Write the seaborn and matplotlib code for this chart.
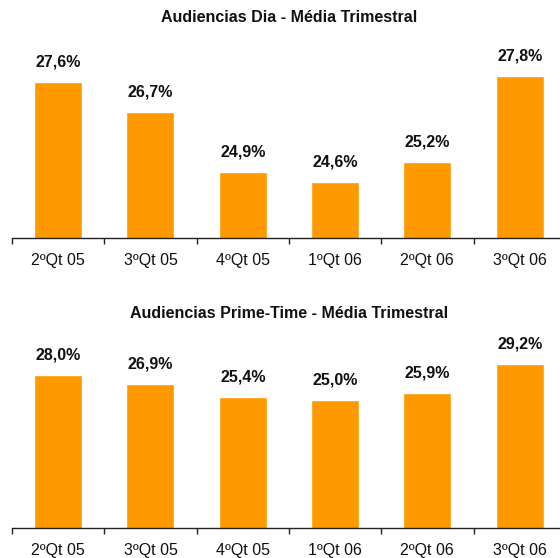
import numpy as np
import pandas as pd
import matplotlib
matplotlib.use("Agg")
import matplotlib.pyplot as plt
import seaborn as sns

# dados
trimestres = ["2ºQt 05", "3ºQt 05", "4ºQt 05", "1ºQt 06", "2ºQt 06", "3ºQt 06"]
audiencia_dia = [27.6, 26.7, 24.9, 24.6, 25.2, 27.8]
audiencia_prime = [28.0, 26.9, 25.4, 25.0, 25.9, 29.2]

titulo_dia = "Audiencias Dia - Média Trimestral"
titulo_prime = "Audiencias Prime-Time - Média Trimestral"

sns.set_theme(style="white")
plt.rcParams['font.family'] = ['Liberation Sans', 'DejaVu Sans']

LARANJA = "#FF9900"

fig = plt.figure(figsize=(5.6, 5.58), dpi=100)

paineis = [
    (audiencia_dia, titulo_dia, [0.0214, 0.5735, 0.989, 0.3548], (22.9, 28.88), 0.968),
    (audiencia_prime, titulo_prime, [0.0214, 0.0538, 0.989, 0.3548], (10.1, 33.2), 0.439),
]

for valores, titulo, pos, ylim, ytit in paineis:
    ax = fig.add_axes(pos)
    df = pd.DataFrame({"Trimestre": trimestres, "Valor": valores})
    sns.barplot(data=df, x="Trimestre", y="Valor", color=LARANJA,
                saturation=1, width=0.52, ax=ax)

    ax.set_ylim(*ylim)
    ax.set_xlim(-0.5, len(trimestres) - 0.5)

    # etiquetas dos valores
    rotulos = [f"{v:.1f}%".replace(".", ",") for v in valores]
    ax.bar_label(ax.containers[0], labels=rotulos, padding=9,
                 fontsize=11.5, fontweight="bold", color="#111111")

    for s in ["top", "right", "left"]:
        ax.spines[s].set_visible(False)
    ax.spines["bottom"].set_color("#222222")
    ax.spines["bottom"].set_linewidth(1.0)

    ax.set_yticks([])
    ax.set_xlabel("")
    ax.set_ylabel("")
    ax.tick_params(axis="x", which="major", bottom=False, length=0, pad=11,
                   labelsize=11.5, labelcolor="#111111")
    ax.set_xticks(np.arange(-0.5, len(trimestres)), minor=True)
    ax.tick_params(axis="x", which="minor", bottom=True, length=4, width=1,
                   color="#222222", direction="out")

    fig.text(0.516, ytit, titulo, ha="center", va="center",
             fontsize=11.5, fontweight="bold", color="#111111")

fig.savefig("out.png", dpi=100)
plt.close(fig)
